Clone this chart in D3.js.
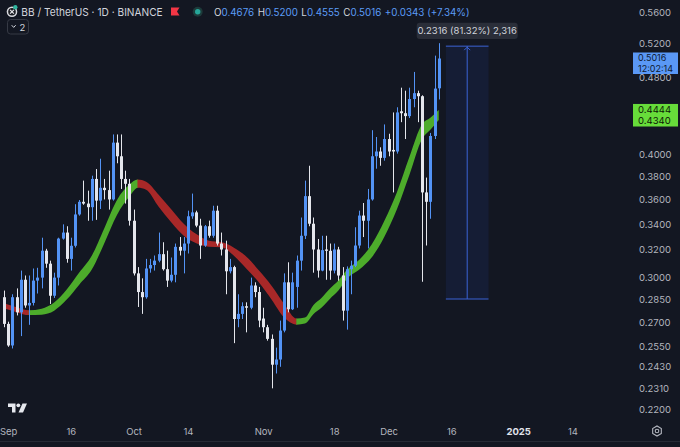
<!DOCTYPE html>
<html>
<head>
<meta charset="utf-8">
<script src="https://cdnjs.cloudflare.com/ajax/libs/d3/7.8.5/d3.min.js"></script>
<style>
  html, body { margin: 0; padding: 0; background: #131722; }
  svg { display: block; font-family: Inter, "Noto Sans", sans-serif; }
</style>
</head>
<body>
<div id="chart"></div>
<script>
/* global d3 */

// BB / TetherUS daily candles, first bar 2024-08-31
const firstDay = '2024-08-31'
const opens = [
  .2860, .2686, .2553, .2860, .2760, .2980, .2805, .2822, .2974, .2995,
  .3191, .3095, .2870, .2995, .3283, .3330, .3130, .3228, .3475, .3580,
  .3565, .3535, .3778, .3590, .3700, .3680, .3600, .4115, .3985, .3778,
  .3735, .3424, .3025, .2895, .2860, .3060, .3085, .3117, .3165, .3055,
  .2974, .3015, .3220, .3191, .3245, .3460, .3492, .3385, .3230, .3380,
  .3305, .3506, .3245, .3200, .3040, .3070, .2717, .2750, .2800, .2790,
  .2940, .2895, .2720, .2665, .2593, .2440, .2470, .2644, .2962, .2780,
  .2930, .3117, .3305, .3628, .3400, .3200, .3045, .3200, .3190, .3045,
  .3200, .3010, .2771, .3055, .3080, .3230, .3466, .3424, .3600, .3985,
  .4030, .3970, .4150, .4045, .4030, .4430, .4410, .4380, .4560, .4623,
  .4590, .3660, .3580, .4180, .4676
]
const highs = [
  .2905, .2700, .2880, .2920, .3045, .3010, .3010, .3060, .3065, .3290,
  .3205, .3117, .3030, .3290, .3395, .3380, .3290, .3560, .3595, .3763,
  .3675, .3807, .3867, .3962, .3778, .3852, .4195, .4195, .4195, .3852,
  .3778, .3515, .3070, .2990, .3130, .3130, .3155, .3330, .3255, .3191,
  .3140, .3245, .3295, .3295, .3506, .3650, .3506, .3440, .3390, .3425,
  .3547, .3547, .3330, .3267, .3130, .3080, .2880, .2826, .2826, .2995,
  .2962, .2930, .2790, .2680, .2620, .2540, .2707, .3025, .3105, .3030,
  .3155, .3450, .3763, .3897, .3450, .3280, .3305, .3305, .3245, .3245,
  .3220, .3070, .3075, .3117, .3372, .3506, .3570, .3690, .4237, .4170,
  .4070, .4295, .4202, .4418, .4472, .4683, .4650, .4683, .4860, .4650,
  .4600, .3790, .4210, .5050, .5200
]
const lows = [
  .2665, .2545, .2535, .2740, .2610, .2790, .2680, .2805, .2885, .2920,
  .3065, .2815, .2855, .2940, .3275, .3102, .3045, .3215, .3465, .3555,
  .3424, .3424, .3431, .3520, .3600, .3515, .3590, .3920, .3690, .3565,
  .3385, .3010, .2795, .2750, .2850, .3030, .3045, .3105, .3045, .2930,
  .2962, .2962, .3155, .3025, .3170, .3440, .3372, .3130, .3220, .3290,
  .3290, .3230, .3155, .2880, .3025, .2567, .2665, .2717, .2633, .2780,
  .2860, .2665, .2633, .2582, .2308, .2390, .2428, .2633, .2760, .2775,
  .2790, .3045, .3280, .3380, .3030, .2995, .3040, .2980, .2980, .3025,
  .2974, .2707, .2650, .2880, .3070, .3208, .3295, .3208, .3590, .3870,
  .3897, .3944, .3985, .3660, .4010, .4318, .4150, .4360, .4472, .4318,
  .2966, .3230, .3440, .4150, .4555
]
const closes = [
  .2686, .2553, .2860, .2760, .2980, .2805, .2822, .2974, .2995, .3191,
  .3095, .2870, .2995, .3283, .3330, .3130, .3228, .3475, .3580, .3565,
  .3535, .3778, .3590, .3700, .3680, .3600, .4115, .3985, .3778, .3735,
  .3424, .3025, .2895, .2860, .3060, .3085, .3117, .3165, .3055, .2974,
  .3015, .3220, .3191, .3245, .3460, .3492, .3385, .3230, .3380, .3305,
  .3506, .3245, .3200, .3040, .3070, .2717, .2750, .2800, .2790, .2940,
  .2895, .2707, .2665, .2593, .2440, .2470, .2644, .2962, .2780, .2962,
  .3117, .3305, .3628, .3400, .3200, .3045, .3195, .3190, .3045, .3200,
  .3010, .2771, .3055, .3080, .3230, .3466, .3424, .3600, .3985, .4030,
  .3970, .4150, .4030, .4030, .4418, .4410, .4380, .4560, .4623, .4590,
  .3660, .3580, .4180, .4673, .5016
]

// trend ribbon, read every third bar (bar index, upper, lower)
const bandBars = [0, 3, 6, 9, 12, 15, 18, 21, 24, 27, 30, 32, 34, 37, 40, 43, 46, 49, 52,
  55, 58, 61, 64, 67, 70, 72, 74, 76, 78, 80, 82, 85, 88, 91, 94, 97, 100, 102, 104]
const bandUpper = [.2820, .2794, .2774, .2784, .2824, .2912, .3031, .3154, .3365, .3594,
  .3728, .3772, .3754, .3641, .3518, .3400, .3318, .3267, .3256, .3213, .3146, .3045,
  .2939, .2817, .2720, .2726, .2807, .2857, .2919, .2974, .3049, .3124, .3240, .3424,
  .3662, .3981, .4298, .4364, .4444]
const bandLower = [.2787, .2761, .2742, .2745, .2771, .2844, .2946, .3052, .3248, .3469,
  .3624, .3701, .3684, .3539, .3412, .3306, .3248, .3221, .3217, .3154, .3059, .2960,
  .2844, .2726, .2681, .2688, .2748, .2791, .2850, .2905, .2985, .3052, .3142, .3298,
  .3518, .3816, .4149, .4242, .4340]

// axes
const yTicks = [0.56, 0.52, 0.48, 0.40, 0.38, 0.36, 0.34, 0.32, 0.30, 0.285, 0.27, 0.255, 0.243, 0.231, 0.22]
const xTickDates = ['2024-09-01', '2024-09-16', '2024-10-01', '2024-10-14', '2024-11-01',
  '2024-11-18', '2024-12-01', '2024-12-16', '2025-01-01', '2025-01-14']
const xTickLabels = ['Sep', '16', 'Oct', '14', 'Nov', '18', 'Dec', '16', '2025', '14']

// price range tool
const measureBars = [105.7, 115.9]
const measurePrices = [0.2848, 0.5164]

const width = 680,
  height = 447

const svg = d3.select('#chart')
  .append('svg')
  .attr('width', width)
  .attr('height', height)

svg.append('rect').attr('width', width).attr('height', height).attr('fill', '#131722')

const start = new Date(firstDay + 'T00:00:00Z')
const dates = d3.utcDay.range(start, d3.utcDay.offset(start, closes.length))
const candles = dates.map((d, i) => ({ date: d, o: opens[i], h: highs[i], l: lows[i], c: closes[i] }))

const x = d3.scaleUtc()
  .domain([start, new Date('2025-01-14T00:00:00Z')])
  .range([4, 4 + 4.18 * 136])

const y = d3.scaleLog()
  .domain([0.22, 0.56])
  .range([408.7, 11.7])

const barX = (d) => Math.round(x(d))
const up = '#5393f5',
  down = '#e4e6ec'

// ribbon
const band = bandBars.map((b, i) => ({ date: dates[b], hi: bandUpper[i], lo: bandLower[i] }))
const area = d3.area()
  .x((d) => x(d.date))
  .y0((d) => y(d.lo))
  .y1((d) => y(d.hi))
  .curve(d3.curveMonotoneX)

// split into rising / falling runs
let runs = []
for (let k = 0; k < band.length - 1; k++) {
  const rising = (band[k + 1].hi + band[k + 1].lo) > (band[k].hi + band[k].lo)
  const last = runs[runs.length - 1]
  if (last && last.rising === rising) last.to = k + 1
  else runs.push({ rising: rising, from: k, to: k + 1 })
}
const defs = svg.append('defs')
runs.forEach((r, i) => {
  const x0 = x(band[r.from].date) - (r.from === 0 ? 2 : 0.3)
  const x1 = x(band[r.to].date) + (r.to === band.length - 1 ? 2 : 0.3)
  defs.append('clipPath').attr('id', 'run' + i)
    .append('rect').attr('x', x0).attr('y', 0).attr('width', x1 - x0).attr('height', height)
  svg.append('path')
    .datum(band)
    .attr('d', area)
    .attr('fill', r.rising ? '#4dac2b' : '#a82828')
    .attr('clip-path', `url(#run${i})`)
})

// candles
svg.selectAll('line.wick')
  .data(candles)
  .enter()
  .append('line')
  .attr('class', 'wick')
  .attr('x1', (d) => barX(d.date) + 0.5)
  .attr('x2', (d) => barX(d.date) + 0.5)
  .attr('y1', (d) => y(d.h))
  .attr('y2', (d) => y(d.l))
  .attr('stroke', (d) => d.c >= d.o ? up : down)
  .attr('stroke-width', 1)

svg.selectAll('rect.body')
  .data(candles)
  .enter()
  .append('rect')
  .attr('class', 'body')
  .attr('x', (d) => barX(d.date) - 1)
  .attr('width', 3)
  .attr('y', (d) => y(Math.max(d.o, d.c)))
  .attr('height', (d) => Math.max(1, Math.abs(y(d.o) - y(d.c))))
  .attr('fill', (d) => d.c >= d.o ? up : down)

// price range measure
const mOffset = (b) => d3.utcHour.offset(start, Math.round(b * 24))
const mx0 = x(mOffset(measureBars[0])),
  mx1 = x(mOffset(measureBars[1])),
  my0 = y(measurePrices[0]),
  my1 = y(measurePrices[1]),
  mxc = (mx0 + mx1) / 2
svg.append('rect')
  .attr('x', mx0).attr('y', my1)
  .attr('width', mx1 - mx0).attr('height', my0 - my1)
  .attr('fill', 'rgba(41,98,255,0.09)')
svg.selectAll('line.mEdge')
  .data([my0, my1])
  .enter()
  .append('line')
  .attr('x1', mx0).attr('x2', mx1)
  .attr('y1', (d) => d).attr('y2', (d) => d)
  .attr('stroke', '#3b63d6').attr('stroke-width', 1)
svg.append('line')
  .attr('x1', mxc).attr('x2', mxc)
  .attr('y1', my0).attr('y2', my1)
  .attr('stroke', '#3b63d6').attr('stroke-width', 1)
svg.append('path')
  .attr('d', `M${mxc - 3},${my1 + 4}L${mxc},${my1 + 1}L${mxc + 3},${my1 + 4}`)
  .attr('fill', 'none').attr('stroke', '#3b63d6')
const diff = measurePrices[1] - measurePrices[0]
const pct = diff / measurePrices[0] * 100
svg.append('rect')
  .attr('x', mxc - 50.5).attr('y', 22.7)
  .attr('width', 101).attr('height', 16.3).attr('rx', 3)
  .attr('fill', '#2a2e39')
svg.append('text')
  .attr('x', mxc).attr('y', 34.3)
  .attr('text-anchor', 'middle')
  .attr('font-size', 9.5)
  .attr('fill', '#d1d4dc')
  .text(`${diff.toFixed(4)} (${pct.toFixed(2)}%) ${d3.format(',')(Math.round(diff * 10000))}`)

// price axis
const yAxis = svg.append('g')
  .attr('transform', 'translate(639,0)')
  .call(d3.axisRight(y).tickValues(yTicks).tickFormat(d3.format('.4f')).tickSize(0).tickPadding(0))
yAxis.select('.domain').remove()
yAxis.selectAll('text')
  .attr('font-family', 'Inter, "Noto Sans", sans-serif')
  .attr('font-size', 9.5)
  .attr('fill', '#b2b5be')
  .attr('dy', '0.35em')

// time axis
const xAxis = svg.append('g')
  .call(d3.axisBottom(x)
    .tickValues(xTickDates.map((d) => new Date(d + 'T00:00:00Z')))
    .tickFormat((d, i) => xTickLabels[i])
    .tickSize(0).tickPadding(0))
xAxis.select('.domain').remove()
xAxis.selectAll('text')
  .attr('y', 434.5).attr('dy', 0)
  .attr('font-family', 'Inter, "Noto Sans", sans-serif')
  .attr('font-size', 9.5)
  .attr('fill', (d, i) => xTickLabels[i] === '2025' ? '#e0e3eb' : '#b2b5be')
  .attr('font-weight', (d, i) => xTickLabels[i] === '2025' ? 700 : 400)

svg.append('line')
  .attr('x1', 0).attr('x2', width).attr('y1', 441.5).attr('y2', 441.5)
  .attr('stroke', '#262a35')

// last price label
const last = candles[candles.length - 1]
const ly = y(last.c)
svg.append('rect').attr('x', 633).attr('y', ly - 6).attr('width', 45).attr('height', 21.5).attr('fill', '#5a98f5')
svg.append('text').attr('x', 638).attr('y', ly + 2.8)
  .attr('font-size', 9).attr('fill', '#0f1a30').text(last.c.toFixed(4))
svg.append('text').attr('x', 638).attr('y', ly + 13.2)
  .attr('font-size', 9).attr('fill', '#0f1a30').text('12:02:14')

// ribbon labels
const gy0 = y(bandUpper[bandUpper.length - 1]),
  gy1 = y(bandLower[bandLower.length - 1])
svg.append('rect').attr('x', 633).attr('y', gy0 - 6).attr('width', 45).attr('height', gy1 - gy0 + 12.5).attr('fill', '#67dc3a')
svg.append('text').attr('x', 638).attr('y', gy0 + 3.3)
  .attr('font-size', 9.5).attr('fill', '#0d1a06').text(bandUpper[bandUpper.length - 1].toFixed(4))
svg.append('text').attr('x', 638).attr('y', gy1 + 3.8)
  .attr('font-size', 9.5).attr('fill', '#0d1a06').text(bandLower[bandLower.length - 1].toFixed(4))

// header
svg.append('circle').attr('cx', 12).attr('cy', 11.7).attr('r', 5.3).attr('fill', '#d9dadf')
svg.append('circle').attr('cx', 12).attr('cy', 11.7).attr('r', 3.8).attr('fill', '#1a1c22')
svg.append('path').attr('d', 'M10.1,9.8L13.9,13.6M13.9,9.8L10.1,13.6').attr('stroke', '#e8e8ec').attr('stroke-width', 1.2)
svg.append('circle').attr('cx', 15.3).attr('cy', 7.3).attr('r', 2.2).attr('fill', '#2fb59e')

svg.append('text').attr('x', 21.3).attr('y', 15.8)
  .attr('font-size', 11)
  .attr('textLength', 141.4).attr('lengthAdjust', 'spacingAndGlyphs')
  .attr('fill', '#d1d4dc')
  .text('BB / TetherUS · 1D · BINANCE')

svg.append('path').attr('d', 'M171,7.5H179.5L177,11.5L179.5,15.5H171Z').attr('fill', '#f23645')
svg.append('circle').attr('cx', 197.7).attr('cy', 11.7).attr('r', 5).attr('fill', '#1d3a3a')
svg.append('circle').attr('cx', 197.7).attr('cy', 11.7).attr('r', 2.7).attr('fill', '#26a69a')

const prevClose = closes[closes.length - 2]
const chg = last.c - prevClose
const ohlc = [['O', last.o], ['H', last.h], ['L', last.l], ['C', last.c]]
const hdr = svg.append('text').attr('x', 214).attr('y', 15.5).attr('font-size', 9.8)
ohlc.forEach((p, i) => {
  hdr.append('tspan').attr('dx', i === 0 ? 0 : 3.5).attr('fill', '#d1d4dc').text(p[0])
  hdr.append('tspan').attr('fill', '#5b9cf6').text(p[1].toFixed(4))
})
hdr.append('tspan').attr('dx', 3.5).attr('fill', '#5b9cf6')
  .text(`+${chg.toFixed(4)} (+${(chg / prevClose * 100).toFixed(2)}%)`)

svg.append('rect').attr('x', 7.5).attr('y', 19.5).attr('width', 21).attr('height', 14.5).attr('rx', 3)
  .attr('fill', 'none').attr('stroke', '#363a45')
svg.append('path').attr('d', 'M11.7,25.2L13.7,27.4L15.7,25.2').attr('fill', 'none').attr('stroke', '#d1d4dc').attr('stroke-width', 1)
svg.append('text').attr('x', 19.5).attr('y', 30.5).attr('font-size', 9.5).attr('fill', '#d1d4dc').text('2')

// TradingView mark
const tv = svg.append('g').attr('fill', '#e6e8ee')
tv.append('path').attr('d', 'M8,403.5H15.5V412.5H12V407H8Z')
tv.append('circle').attr('cx', 18.3).attr('cy', 405.3).attr('r', 1.9)
tv.append('path').attr('d', 'M22.5,403.5H27L23,412.5H18.5Z')

// settings gear
svg.append('path')
  .attr('d', d3.range(6).map((k) => {
    const a = Math.PI / 3 * k + Math.PI / 6
    return (k ? 'L' : 'M') + (657 + 5 * Math.cos(a)).toFixed(2) + ',' + (431 + 5 * Math.sin(a)).toFixed(2)
  }).join('') + 'Z')
  .attr('fill', 'none').attr('stroke', '#b2b5be').attr('stroke-width', 1.1)
svg.append('circle').attr('cx', 657).attr('cy', 431).attr('r', 1.8)
  .attr('fill', 'none').attr('stroke', '#b2b5be').attr('stroke-width', 1.1)
</script>
</body>
</html>
